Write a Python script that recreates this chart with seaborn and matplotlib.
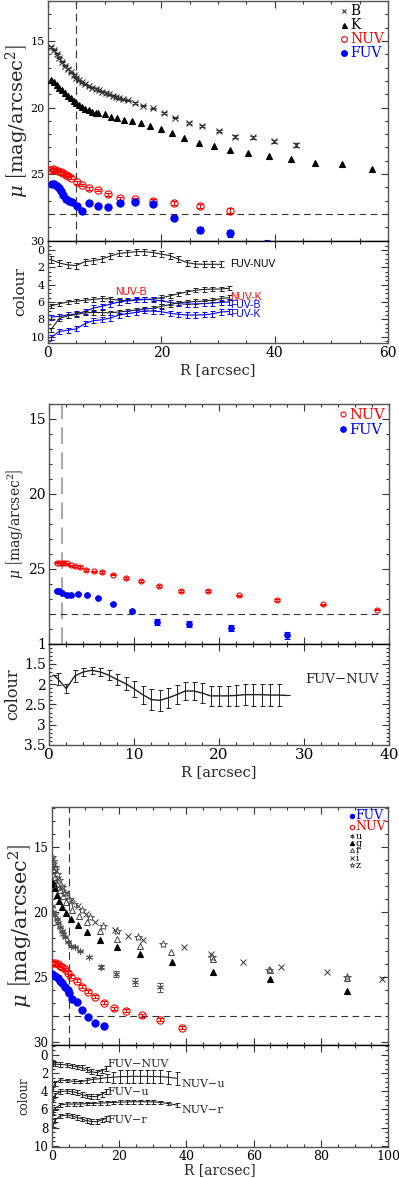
import numpy as np
import matplotlib
matplotlib.use("Agg")
import matplotlib.pyplot as plt
from matplotlib.ticker import MultipleLocator
import seaborn as sns

# ---------------- panel 1 : profiles ----------------
p1_B_r = [0.6, 1.0, 1.5, 2.0, 2.5, 3.0, 3.5, 4.0, 4.5, 5.0, 5.5, 6.0, 6.6, 7.2, 7.8, 8.4, 9.0,
          9.6, 10.2, 10.8, 11.4, 12.0, 12.6, 13.3, 14.1, 15.4, 16.8, 18.6, 20.4, 22.4, 24.8,
          27.1, 30.1, 33.0, 36.2, 39.9, 43.8]
p1_B_mu = [15.45, 15.65, 15.95, 16.25, 16.55, 16.85, 17.1, 17.35, 17.55, 17.75, 17.95, 18.1,
           18.25, 18.4, 18.5, 18.6, 18.7, 18.8, 18.9, 19.0, 19.1, 19.2, 19.3, 19.38, 19.45,
           19.65, 19.85, 20.07, 20.4, 20.75, 21.15, 21.37, 21.77, 22.2, 22.25, 22.55, 22.82]
p1_B_err = [0.05] * 30 + [0.08, 0.08, 0.1, 0.12, 0.12, 0.14, 0.15]
p1_K_r = [0.6, 1.0, 1.5, 2.0, 2.5, 3.0, 3.5, 4.0, 4.5, 5.0, 5.5, 6.0, 6.6, 7.2, 7.8, 8.4, 8.9,
          10.1, 11.2, 12.2, 13.4, 14.8, 16.4, 18.0, 19.9, 21.9, 24.0, 26.6, 29.3, 32.2, 35.3,
          39.0, 42.9, 47.1, 51.8, 57.1]
p1_K_mu = [17.95, 18.1, 18.3, 18.5, 18.7, 18.9, 19.1, 19.3, 19.5, 19.65, 19.8, 19.95, 20.08,
           20.2, 20.3, 20.38, 20.44, 20.52, 20.7, 20.77, 20.9, 21.04, 21.19, 21.4, 21.64,
           21.94, 22.32, 22.65, 22.87, 23.2, 23.44, 23.62, 23.9, 24.2, 24.25, 24.62]
p1_nuv_r = [0.35, 0.82, 1.29, 1.82, 2.24, 2.7, 3.12, 3.59, 4.06, 5.06, 6.06, 7.29, 8.82, 10.65,
            12.7, 15.35, 18.47, 22.3, 26.8, 32.2]
p1_nuv_mu = [24.7, 24.64, 24.7, 24.77, 24.87, 24.94, 25.05, 25.12, 25.27, 25.62, 25.82, 26.07,
             26.2, 26.52, 26.82, 26.9, 27.02, 27.17, 27.42, 27.75]
p1_nuv_err = [0.1] * 16 + [0.12, 0.14, 0.16, 0.18]
p1_fuv_r = [0.65, 1.06, 1.53, 1.94, 2.29, 2.7, 3.18, 3.65, 4.18, 5.06, 6.06, 7.29, 8.82, 10.65,
            12.7, 15.35, 18.47, 22.3, 26.8, 32.2, 38.6]
p1_fuv_mu = [25.75, 25.77, 25.9, 26.07, 26.25, 26.57, 26.9, 27.02, 27.07, 27.37, 27.75, 27.2,
             27.37, 27.45, 27.2, 27.12, 27.27, 28.27, 29.2, 29.45, 30.4]
p1_fuv_err = [0.08] * 17 + [0.15, 0.22, 0.25, 0.45]

# ---------------- panel 1 : colours ----------------
p1_col_r = [0.5, 2.0, 3.5, 5.0, 6.5, 8.0, 9.5, 11.0, 12.5, 14.0, 15.5, 17.0, 18.5, 20.0, 21.5,
            23.0, 24.5, 26.0, 27.5, 29.0, 30.5, 32.0]
p1_fuv_nuv = [1.1, 1.5, 1.72, 1.8, 1.35, 1.23, 1.05, 0.7, 0.4, 0.3, 0.2, 0.18, 0.3, 0.47, 0.65,
              1.05, 1.45, 1.62, 1.65, 1.65, 1.65, 1.65]
p1_nuv_b = [6.45, 6.2, 6.0, 5.9, 5.8, 5.7, 5.6, 5.65, 5.8, 5.88, 5.8, 5.72, 5.65, 5.5, 5.3,
            5.05, 4.85, 4.65, 4.55, 4.52, 4.5, 4.42]
p1_fuv_b = [7.75, 7.65, 7.5, 7.35, 7.1, 6.7, 6.5, 6.25, 6.0, 5.85, 5.72, 5.68, 5.75, 5.88,
            6.05, 6.2, 6.25, 6.22, 6.18, 6.12, 6.05, 6.0]
p1_nuv_k = [9.2, 7.9, 7.6, 7.45, 7.25, 7.2, 7.22, 7.25, 7.15, 7.05, 6.92, 6.82, 6.73, 6.5,
            6.3, 6.1, 6.0, 5.95, 5.88, 5.8, 5.6, 5.5]
p1_fuv_k = [10.1, 9.4, 9.25, 9.1, 8.5, 8.15, 8.05, 7.85, 7.52, 7.35, 7.2, 7.02, 7.05, 7.12,
            7.3, 7.42, 7.5, 7.5, 7.48, 7.38, 7.15, 7.1]

# ---------------- panel 2 ----------------
p2_nuv_r = [0.87, 1.18, 1.49, 1.77, 2.05, 2.55, 3.06, 3.61, 4.32, 5.26, 6.24, 7.53, 9.02, 10.75,
            12.94, 15.5, 18.7, 22.35, 26.8, 32.2, 38.6]
p2_nuv_mu = [24.6, 24.6, 24.62, 24.65, 24.65, 24.78, 24.82, 24.89, 25.09, 25.18, 25.22, 25.4,
             25.62, 25.82, 26.16, 26.49, 26.49, 26.78, 27.11, 27.38, 27.73]
p2_fuv_r = [0.87, 1.18, 1.49, 2.05, 2.55, 3.41, 4.48, 5.77, 7.53, 9.77, 12.63, 16.5, 21.4, 28.0]
p2_fuv_mu = [26.47, 26.51, 26.6, 26.78, 26.78, 26.67, 26.78, 26.93, 27.33, 27.84, 28.55,
             28.71, 28.96, 29.45]
p2_fuv_err = [0.05] * 9 + [0.1, 0.2, 0.2, 0.2, 0.25]
p2_col_r = [0.5, 1, 2, 3, 4, 5, 6, 7, 8, 9, 10, 11, 12, 13, 14, 15, 16, 17, 18, 19, 20, 21, 22,
            23, 24, 25, 26, 27, 28]
p2_fuv_nuv = [1.78, 1.87, 2.11, 1.8, 1.7, 1.66, 1.7, 1.78, 1.89, 1.99, 2.12, 2.26, 2.38, 2.4,
              2.34, 2.26, 2.17, 2.17, 2.22, 2.29, 2.29, 2.29, 2.28, 2.26, 2.26, 2.26, 2.27,
              2.27, 2.28]
p2_fuv_nuv_err = [0.0, 0.15, 0.12, 0.14, 0.1, 0.08, 0.1, 0.12, 0.14, 0.16, 0.2, 0.22, 0.25,
                  0.26, 0.25, 0.24, 0.23, 0.23, 0.25, 0.25, 0.25, 0.25, 0.25, 0.26, 0.27,
                  0.27, 0.27, 0.27, 0.0]

# ---------------- panel 3 ----------------
p3_fuv_r = [0.2, 0.98, 1.78, 2.47, 3.15, 3.95, 4.75, 5.14, 6.13, 7.43, 8.9, 10.7, 12.86, 15.5]
p3_fuv_mu = [24.79, 24.95, 25.12, 25.3, 25.51, 25.77, 26.02, 26.28, 26.74, 26.92, 27.56,
             28.12, 28.58, 28.79]
p3_nuv_r = [0.2, 0.98, 1.78, 2.47, 3.15, 3.95, 4.75, 5.74, 7.43, 8.9, 10.7, 12.86, 15.5, 18.6,
            22.2, 26.9, 32.2, 38.6]
p3_nuv_mu = [23.92, 23.97, 24.05, 24.15, 24.28, 24.43, 24.69, 25.0, 25.31, 25.77, 26.15,
             26.54, 27.0, 27.43, 27.62, 27.97, 28.31, 28.92]
p3_u_r = [0.2, 0.5, 1.0, 1.5, 2.0, 2.5, 3.0, 3.5, 4.0, 4.8, 5.8, 6.8, 8.5, 11.0, 14.6, 19.1,
          24.7, 32.2]
p3_u_mu = [19.6, 20.0, 20.25, 20.58, 20.89, 21.2, 21.46, 21.72, 21.97, 22.31, 22.6, 22.75,
           23.0, 23.48, 24.28, 24.79, 25.38, 25.82]
p3_u_err = [0.05] * 14 + [0.15, 0.2, 0.3, 0.35]
p3_g_r = [0.2, 0.6, 1.0, 1.5, 2.2, 3.2, 4.2, 5.7, 7.7, 10.6, 14.4, 19.3, 26.2, 35.6, 48.0,
          64.8, 87.6]
p3_g_mu = [17.7, 17.9, 18.2, 18.72, 19.18, 19.62, 20.08, 20.56, 21.02, 21.54, 22.18, 22.74,
           23.25, 23.89, 24.66, 25.18, 26.1]
p3_r_r = [0.2, 0.5, 1.0, 1.7, 2.5, 3.3, 4.2, 5.9, 8.1, 10.4, 14.4, 19.3, 26.2, 35.5, 48.0,
          64.8, 87.6]
p3_r_mu = [16.3, 16.7, 17.31, 17.85, 18.33, 18.8, 19.23, 19.87, 20.33, 20.77, 21.46, 22.08,
           22.64, 23.1, 23.66, 24.48, 25.12]
p3_i_r = [0.2, 0.6, 1.2, 2.0, 3.0, 4.2, 5.8, 7.8, 10.3, 12.9, 18.8, 22.8, 27.2, 39.4, 47.2,
          56.7, 68.1, 81.9, 98.2]
p3_i_mu = [16.0, 16.4, 16.9, 17.5, 18.1, 18.6, 19.15, 19.6, 20.15, 20.77, 21.41, 21.9, 22.2,
           22.72, 23.25, 23.84, 24.23, 24.62, 25.2]
p3_z_r = [0.2, 0.5, 1.0, 1.6, 2.3, 3.1, 4.0, 5.2, 6.7, 8.9, 11.4, 15.3, 19.5, 25.7, 33.1,
          47.5, 64.5, 87.6]
p3_z_mu = [15.8, 16.1, 16.6, 17.1, 17.6, 18.1, 18.55, 19.0, 19.41, 19.87, 20.43, 21.1, 21.45,
           21.95, 22.47, 23.5, 24.45, 25.0]

p3_short_r = [0.3, 1.0, 2.5, 4.5, 6.0, 7.4, 9.0, 10.4, 11.8, 13.4, 14.8, 16.2]
p3_fuv_nuv = [0.95, 1.0, 1.05, 1.1, 1.2, 1.3, 1.4, 1.6, 1.84, 1.95, 1.75, 1.5]
p3_fuv_u = [4.96, 4.41, 4.04, 3.97, 4.05, 4.15, 4.35, 4.52, 4.58, 4.59, 4.33, 4.04]
p3_fuv_rr = [7.72, 7.17, 6.73, 6.62, 6.72, 6.87, 7.05, 7.24, 7.32, 7.35, 7.17, 6.98]
p3_long_r = [0.3, 1.0, 2.5, 4.5, 6.5, 8.4, 10.4, 12.4, 14.4, 16.3, 18.3, 20.3, 22.3, 24.2,
             26.2, 28.2, 30.2, 32.2, 34.6, 37.1]
p3_nuv_u = [3.67, 3.12, 2.76, 2.83, 2.9, 2.94, 2.82, 2.68, 2.6, 2.5, 2.45, 2.39, 2.37, 2.35,
            2.35, 2.35, 2.37, 2.39, 2.45, 2.57]
p3_nuv_u_err = [0.3, 0.25, 0.2, 0.2, 0.2, 0.2, 0.25, 0.3, 0.35, 0.45, 0.6, 0.7, 0.7, 0.7, 0.7,
                0.7, 0.7, 0.7, 0.7, 0.7]
p3_nuv_rr = [6.43, 5.88, 5.51, 5.4, 5.4, 5.4, 5.36, 5.33, 5.3, 5.26, 5.23, 5.2, 5.18, 5.15,
             5.15, 5.15, 5.18, 5.22, 5.35, 5.51]

W, H = 399, 1178
sns.set_style("ticks")
plt.rcParams["font.family"] = ["DejaVu Serif"]
plt.rcParams["mathtext.fontset"] = "dejavuserif"

fig = plt.figure(figsize=(W / 100, H / 100), dpi=100)


def rect(l, t, r, b):
    return [l / W, 1 - b / H, (r - l) / W, (b - t) / H]


def style_axes(ax, xmaj, xmin, ymaj, ymin, fs):
    ax.xaxis.set_major_locator(MultipleLocator(xmaj))
    ax.xaxis.set_minor_locator(MultipleLocator(xmin))
    ax.yaxis.set_major_locator(MultipleLocator(ymaj))
    ax.yaxis.set_minor_locator(MultipleLocator(ymin))
    ax.tick_params(which="both", direction="in", top=True, right=True, colors="#333333",
                   labelcolor="black", width=0.8, pad=2.5)
    ax.tick_params(which="major", length=5, labelsize=fs)
    ax.tick_params(which="minor", length=2.5)
    for s in ax.spines.values():
        s.set_color("#555555")
        s.set_linewidth(1.0)


def points(ax, r, mu, marker, color, ms, filled=True, label=None, err=None, mew=0.8):
    if err is not None:
        ax.errorbar(r, mu, yerr=err, fmt="none", ecolor=color, elinewidth=0.8, capsize=2,
                    capthick=0.8, zorder=2)
    sns.lineplot(x=r, y=mu, ax=ax, estimator=None, sort=False, linestyle="", marker=marker,
                 markersize=ms, color=color, markeredgecolor=color,
                 markerfacecolor=color if filled else "none", markeredgewidth=mew,
                 label=label, legend=False, zorder=3)


def colour_line(ax, r, c, color, err, lw=0.8):
    sns.lineplot(x=r, y=c, ax=ax, estimator=None, sort=False, color=color, linewidth=lw,
                 legend=False)
    ax.errorbar(r, c, yerr=err, fmt="none", ecolor=color, elinewidth=0.7, capsize=1.8,
                capthick=0.7)


def legend(ax, colors, sizes, fs, spacing, scale):
    leg = ax.legend(loc="upper right", frameon=False, handlelength=0.5, handletextpad=0.2,
                    labelspacing=spacing, borderaxespad=0.1, borderpad=0.15,
                    labelcolor=colors, fontsize=fs, markerscale=scale)
    for t, s in zip(leg.get_texts(), sizes):
        t.set_fontsize(s)
    return leg


ylab = r"$\mu\ \left[{\rm mag/arcsec^2}\right]$"

# ======== Panel 1 ========
a1 = fig.add_axes(rect(48, 1, 388, 240.7))
b1 = fig.add_axes(rect(48, 240.7, 388, 343), sharex=a1)
points(a1, p1_B_r, p1_B_mu, "x", "#333333", 4, label="B", err=p1_B_err, mew=0.8)
points(a1, p1_K_r, p1_K_mu, "^", "black", 4.5, label="K")
points(a1, p1_nuv_r, p1_nuv_mu, "o", "red", 5.2, filled=False, label="NUV", err=p1_nuv_err)
points(a1, p1_fuv_r, p1_fuv_mu, "o", "blue", 5.2, label="FUV", err=p1_fuv_err)
a1.axvline(5, color="#333333", lw=0.8, dashes=(7, 4))
a1.axhline(28, color="#333333", lw=0.8, dashes=(6, 4))
a1.set_xlim(0, 60)
a1.set_ylim(30, 12)
style_axes(a1, 20, 5, 5, 1, 8)
a1.set_yticks([15, 20, 25, 30])
a1.tick_params(labelbottom=False)
a1.set_ylabel(ylab, fontsize=14, labelpad=0)
legend(a1, ["black", "black", "red", "blue"], [10, 10, 10, 10], 10, 0.0, 0.8)

colour_line(b1, p1_col_r[:-1], p1_fuv_nuv[:-1], "#222222", 0.35)
colour_line(b1, p1_col_r, p1_nuv_b, "#222222", 0.25)
colour_line(b1, p1_col_r, p1_fuv_b, "blue", 0.3)
colour_line(b1, p1_col_r, p1_nuv_k, "#222222", 0.25)
colour_line(b1, p1_col_r, p1_fuv_k, "blue", 0.3)
sans = ["Liberation Sans", "DejaVu Sans"]
b1.text(32.2, 1.6, "FUV-NUV", color="black", fontsize=7.5, family=sans, va="center")
b1.text(11.8, 4.8, "NUV-B", color="red", fontsize=7.5, family=sans, va="center")
b1.text(32.2, 5.46, "NUV-K", color="red", fontsize=7.5, family=sans, va="center")
b1.text(32.2, 6.35, "FUV-B", color="blue", fontsize=7.5, family=sans, va="center")
b1.text(32.2, 7.38, "FUV-K", color="blue", fontsize=7.5, family=sans, va="center")
b1.set_ylim(10.73, -1.07)
style_axes(b1, 20, 5, 2, 0.5, 8)
b1.set_yticks([0, 2, 4, 6, 8, 10])
b1.tick_params(axis="x", labelsize=10)
b1.set_ylabel("colour", fontsize=11, labelpad=2)
b1.set_xlabel("R [arcsec]", fontsize=10.5, labelpad=2)
b1.spines["top"].set_color("black")

# ======== Panel 2 ========
a2 = fig.add_axes(rect(49.3, 404, 389, 643.5))
b2 = fig.add_axes(rect(49.3, 643.5, 389, 745), sharex=a2)
points(a2, p2_nuv_r, p2_nuv_mu, "o", "red", 3.6, filled=False, label="NUV",
       err=[0.05] * len(p2_nuv_r))
points(a2, p2_fuv_r, p2_fuv_mu, "o", "blue", 4, label="FUV", err=p2_fuv_err)
a2.axvline(1.5, color="#aaaaaa", lw=1.5, dashes=(8, 4))
a2.axhline(28, color="#333333", lw=0.8, dashes=(6, 4))
a2.set_xlim(0, 40)
a2.set_ylim(30, 14)
style_axes(a2, 10, 2, 5, 1, 10)
a2.set_yticks([15, 20, 25])
a2.tick_params(labelbottom=False)
a2.set_ylabel(ylab, fontsize=10, labelpad=2)
legend(a2, ["red", "blue"], [10.5, 10.5], 10.5, 0.1, 1.0)

colour_line(b2, p2_col_r, p2_fuv_nuv, "#222222", p2_fuv_nuv_err, lw=1.0)
b2.text(30.1, 1.89, "FUV\u2212NUV", fontsize=9.5, va="center")
b2.set_ylim(3.5, 1.0)
style_axes(b2, 10, 2, 0.5, 0.1, 10)
b2.set_yticks([1, 1.5, 2, 2.5, 3, 3.5])
b2.set_yticklabels(["1", "1.5", "2", "2.5", "3", "3.5"])
b2.tick_params(axis="x", labelsize=11)
b2.set_ylabel("colour", fontsize=11.5, labelpad=2)
b2.set_xlabel("R [arcsec]", fontsize=10.5, labelpad=2)
b2.spines["top"].set_color("black")

# ======== Panel 3 ========
a3 = fig.add_axes(rect(51.7, 807, 388.3, 1045))
b3 = fig.add_axes(rect(51.7, 1045, 388.3, 1147), sharex=a3)
points(a3, p3_fuv_r, p3_fuv_mu, "o", "blue", 5.2, label="FUV")
points(a3, p3_nuv_r, p3_nuv_mu, "o", "red", 5.2, filled=False, label="NUV",
       err=[0.1] * len(p3_nuv_r))
points(a3, p3_u_r, p3_u_mu, (6, 2, 0), "#555555", 5, label="u", err=p3_u_err, mew=0.6)
points(a3, p3_g_r, p3_g_mu, "^", "black", 5, label="g")
points(a3, p3_r_r, p3_r_mu, "^", "#444444", 5, filled=False, label="r", mew=0.7)
points(a3, p3_i_r, p3_i_mu, "x", "#333333", 5, label="i", mew=0.7)
points(a3, p3_z_r, p3_z_mu, "*", "#555555", 6, filled=False, label="z", mew=0.7)
a3.axvline(5, color="#333333", lw=0.8, dashes=(7, 4))
a3.axhline(28, color="#333333", lw=0.8, dashes=(6, 4))
a3.set_xlim(0, 100)
a3.set_ylim(30.25, 11.95)
style_axes(a3, 20, 5, 5, 1, 8.5)
a3.set_yticks([15, 20, 25, 30])
a3.tick_params(labelbottom=False)
a3.set_ylabel(ylab, fontsize=15, labelpad=0)
legend(a3, ["blue", "red", "black", "black", "black", "black", "black"],
       [9, 9, 7, 7, 7, 7, 7], 6, -0.2, 0.6)

colour_line(b3, p3_short_r, p3_fuv_nuv, "#222222", 0.25)
colour_line(b3, p3_long_r, p3_nuv_u, "#222222", p3_nuv_u_err)
colour_line(b3, p3_short_r, p3_fuv_u, "#222222", 0.25)
colour_line(b3, p3_long_r, p3_nuv_rr, "#222222", 0.2)
colour_line(b3, p3_short_r, p3_fuv_rr, "#222222", 0.25)
b3.text(16.6, 0.95, "FUV\u2212NUV", fontsize=8, va="center")
b3.text(38.6, 3.2, "NUV\u2212u", fontsize=8, va="center")
b3.text(16.6, 4.04, "FUV\u2212u", fontsize=8, va="center")
b3.text(38.6, 6.06, "NUV\u2212r", fontsize=8, va="center")
b3.text(16.6, 7.17, "FUV\u2212r", fontsize=8, va="center")
b3.set_ylim(10.14, -1.1)
style_axes(b3, 20, 5, 2, 0.5, 8.5)
b3.set_yticks([0, 2, 4, 6, 8, 10])
b3.tick_params(axis="x", labelsize=9)
b3.set_ylabel("colour", fontsize=8.5, labelpad=2)
b3.set_xlabel("R [arcsec]", fontsize=10, labelpad=0)
b3.spines["top"].set_color("black")

fig.savefig("out.png", dpi=100)
